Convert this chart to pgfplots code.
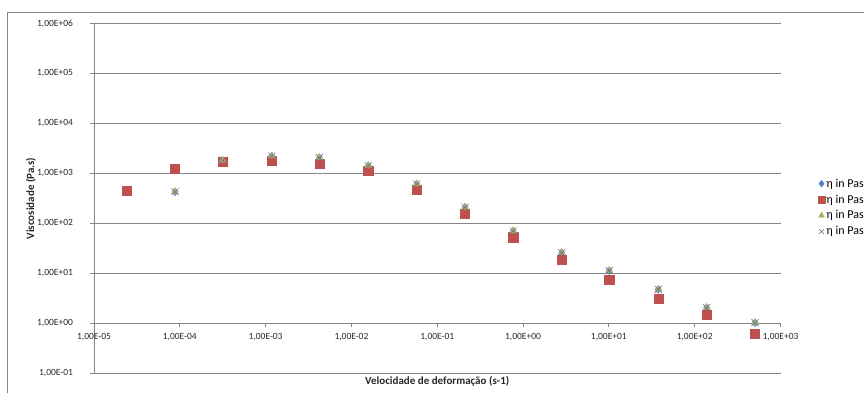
\documentclass[border=0pt]{standalone}
\usepackage{pgfplots}
\pgfplotsset{compat=1.18}
\usepackage{fontspec}
\setmainfont{Carlito}
\definecolor{exred}{RGB}{192,80,77}
\definecolor{exgreen}{RGB}{155,187,89}
\definecolor{expurple}{RGB}{128,100,162}
\definecolor{exblue}{RGB}{79,129,189}
\definecolor{gridgray}{RGB}{134,134,134}
\definecolor{txt}{RGB}{40,40,40}
\begin{document}
\begin{tikzpicture}
\useasboundingbox (0pt,0pt) rectangle (864pt,392pt);
\draw[gridgray, line width=0.9pt] (7pt,-5pt) -- (7pt,380pt) -- (870pt,380pt);
\begin{axis}[
  at={(94pt,18.5pt)}, anchor=south west,
  scale only axis, width=686.5pt, height=350pt,
  xmode=log, ymode=log,
  xmin=1e-5, xmax=1e3, ymin=1e-1, ymax=1e6,
  axis x line=middle, axis y line=left,
  axis line style={-, draw=gridgray, line width=0.8pt},
  hide obscured x ticks=false, hide obscured y ticks=false,
  xminorticks=false, yminorticks=false,
  tick align=outside, major tick length=3.5pt,
  tick style={draw=gridgray, line width=0.8pt},
  ymajorgrids, major grid style={draw=gridgray, line width=0.8pt},
  xtick={1e-5,1e-4,1e-3,1e-2,1e-1,1e0,1e1,1e2,1e3},
  xticklabels={{1,00E-05},{1,00E-04},{1,00E-03},{1,00E-02},{1,00E-01},{1,00E+00},{1,00E+01},{1,00E+02},{1,00E+03}},
  ytick={1e-1,1e0,1e1,1e2,1e3,1e4,1e5,1e6},
  yticklabels={{1,00E-01},{1,00E+00},{1,00E+01},{1,00E+02},{1,00E+03},{1,00E+04},{1,00E+05},{1,00E+06}},
  ticklabel style={font=\fontsize{9.5}{11}\selectfont, text=txt},
  xticklabel style={anchor=north, yshift=-2.5pt},
  yticklabel style={anchor=east, xshift=-14pt},
  every axis x label/.style={at={(axis description cs:0.5,-0.0234)}, anchor=center, font=\bfseries\fontsize{11}{12}\selectfont, text=txt},
  every axis y label/.style={at={(axis description cs:-0.0918,0.5)}, anchor=center, rotate=90, font=\bfseries\fontsize{11}{12}\selectfont, text=txt},
  xlabel={Velocidade de deformação (s-1)},
  ylabel={Viscosidade (Pa.s)},
  clip=false,
  legend image code/.code={\draw[#1, mark size=3.4pt] plot coordinates {(0pt,0pt)};},
  legend style={at={(axis description cs:1.0545,0.474)}, anchor=west, draw=none, fill=none,
    font=\fontsize{12}{13}\selectfont, row sep=3.2pt, inner sep=0pt,
    nodes={inner sep=1.5pt}},
  legend cell align=left,
]
\addplot[only marks, mark=diamond*, mark size=4pt, color=exblue] coordinates {
(8.79e-5,433) (3.16e-4,1836) (1.18e-3,2239) (4.23e-3,2070) (1.57e-2,1432)
(5.77e-2,617) (0.211,211) (0.769,70.8) (2.82,26.1) (10.1,11.4)
(37.7,4.83) (138,2.07) (505,1.04)};
\addlegendentry{η in Pas}
\addplot[only marks, mark=square*, mark size=4.6pt, color=exred] coordinates {
(2.40e-5,447) (8.79e-5,1230) (3.16e-4,1722) (1.18e-3,1778) (4.23e-3,1600)
(1.57e-2,1138) (5.77e-2,468) (0.211,160) (0.769,53) (2.82,19.2)
(10.1,7.41) (37.7,3.19) (138,1.48) (505,0.637)};
\addlegendentry{η in Pas}
\addplot[only marks, mark=triangle*, mark size=4pt, color=exgreen] coordinates {
(8.79e-5,433) (3.16e-4,1836) (1.18e-3,2239) (4.23e-3,2070) (1.57e-2,1432)
(5.77e-2,617) (0.211,211) (0.769,70.8) (2.82,26.1) (10.1,11.4)
(37.7,4.83) (138,2.07) (505,1.04)};
\addlegendentry{η in Pas}
\addplot[only marks, mark=x, mark size=5pt, color=expurple, line width=0.6pt] coordinates {
(8.79e-5,433) (3.16e-4,1836) (1.18e-3,2239) (4.23e-3,2070) (1.57e-2,1432)
(5.77e-2,617) (0.211,211) (0.769,70.8) (2.82,26.1) (10.1,11.4)
(37.7,4.83) (138,2.07) (505,1.04)};
\addlegendentry{η in Pas}
\end{axis}
\end{tikzpicture}
\end{document}
